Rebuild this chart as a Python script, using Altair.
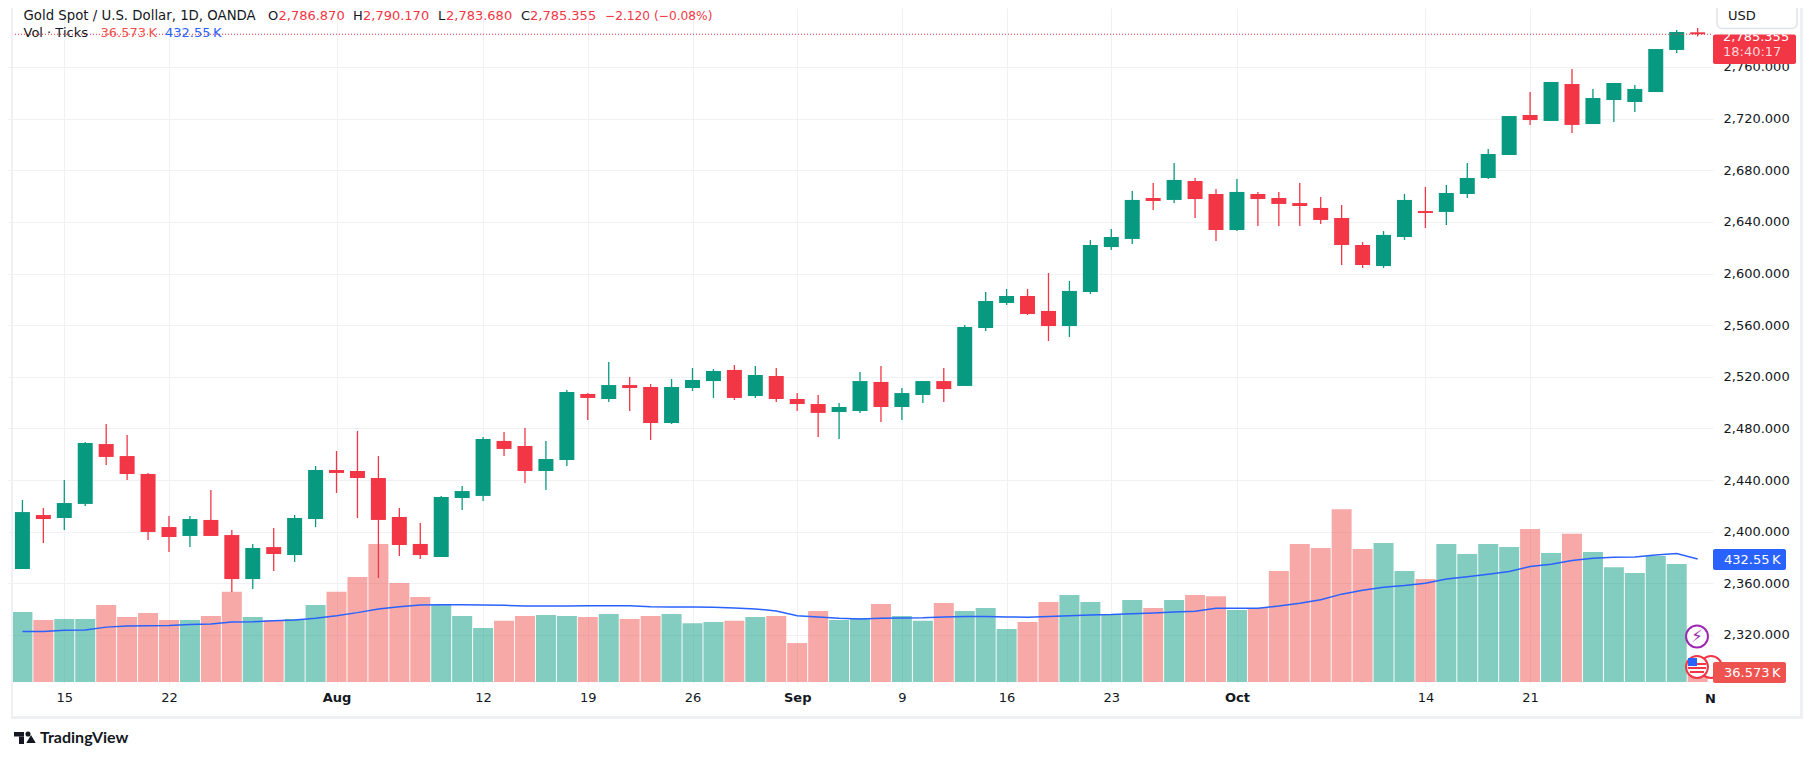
import altair as alt
import pandas as pd

OPEN = [2371.1,2412.9,2410.6,2421.5,2467.9,2458.6,2444.7,2403.6,2396.7,2409.1,2397.4,2363.3,2388.1,2381.9,2409.8,2447.8,2447.0,2441.6,2411.4,2390.5,2380.4,2426.1,2427.7,2470.3,2466.4,2447.0,2455.5,2506.7,2502.8,2513.6,2512.1,2484.2,2511.3,2516.7,2525.3,2505.1,2520.6,2502.8,2498.9,2492.7,2493.5,2516.0,2496.6,2505.9,2516.7,2512.9,2557.8,2577.2,2582.6,2571.0,2559.3,2585.7,2620.5,2626.8,2658.5,2657.0,2671.7,2661.6,2633.7,2661.6,2658.5,2654.6,2650.8,2643.0,2622.1,2605.8,2628.3,2648.4,2647.7,2661.6,2674.0,2691.8,2722.8,2718.2,2746.8,2715.8,2734.4,2732.9,2740.6,2773.2,2786.87]
HIGH = [2424.5,2418.3,2440.0,2469.5,2483.4,2474.9,2445.5,2412.2,2412.2,2432.3,2401.3,2390.5,2402.9,2412.9,2450.9,2462.5,2478.0,2458.6,2418.3,2406.7,2427.7,2435.4,2473.4,2477.2,2480.3,2470.3,2509.8,2507.4,2531.5,2519.8,2514.4,2518.3,2526.8,2526.0,2529.1,2528.4,2526.8,2507.4,2505.9,2499.7,2523.7,2528.4,2511.3,2516.7,2526.8,2560.1,2585.7,2588.0,2588.0,2600.4,2594.2,2626.0,2634.5,2663.9,2670.1,2685.6,2674.0,2665.5,2673.2,2663.2,2663.2,2670.1,2659.3,2653.1,2624.4,2632.9,2661.6,2667.0,2668.6,2685.6,2696.5,2722.0,2740.6,2748.4,2758.4,2743.0,2747.6,2746.0,2773.9,2788.7,2790.17]
LOW = [2371.1,2391.2,2401.3,2419.9,2451.7,2440.0,2393.6,2384.3,2388.1,2396.7,2353.3,2355.6,2369.5,2376.5,2403.6,2430.0,2410.6,2364.1,2381.2,2378.8,2380.4,2416.8,2423.8,2458.6,2437.7,2432.3,2450.9,2486.5,2500.5,2493.5,2471.0,2483.4,2509.0,2503.6,2502.0,2503.6,2500.5,2493.5,2473.4,2471.8,2492.0,2485.0,2486.5,2499.7,2500.5,2512.9,2555.5,2575.6,2567.9,2547.7,2550.8,2584.1,2618.2,2622.9,2649.2,2654.6,2643.0,2625.2,2632.9,2636.8,2636.8,2636.8,2638.4,2606.6,2604.3,2604.3,2626.0,2635.3,2637.6,2658.5,2673.2,2691.8,2715.1,2718.2,2708.9,2715.8,2717.4,2725.1,2740.6,2770.8,2783.68]
CLOSE = [2415.2,2409.8,2422.2,2468.7,2457.9,2444.7,2399.8,2395.9,2409.8,2396.7,2363.3,2387.4,2382.7,2410.6,2447.8,2445.5,2441.6,2409.1,2389.7,2381.9,2426.9,2431.5,2471.8,2464.1,2447.0,2456.3,2508.2,2503.6,2513.6,2511.3,2484.2,2512.1,2517.5,2524.5,2503.6,2521.4,2502.8,2498.9,2492.0,2496.6,2516.7,2496.6,2507.4,2516.7,2510.5,2558.6,2578.7,2582.6,2568.6,2559.3,2586.5,2622.1,2628.3,2657.0,2656.2,2672.5,2657.7,2633.7,2663.2,2657.7,2653.9,2652.3,2641.5,2622.1,2606.6,2629.9,2657.0,2646.9,2662.4,2674.0,2692.6,2722.0,2718.9,2748.4,2715.1,2736.0,2747.6,2743.0,2773.9,2787.1,2785.355]
VOLUME = [246,218,222,222,271,229,243,218,218,232,317,229,218,222,271,317,369,485,348,299,271,232,190,215,232,236,232,229,239,222,232,239,207,211,215,229,232,137,250,218,225,274,232,215,278,250,260,186,211,281,306,281,236,288,260,288,306,302,253,260,390,485,471,608,468,489,390,362,485,450,485,475,538,454,521,457,404,383,443,415,36.573]
VOLUME_MA = [178,178,182,183,193,197,198,199,202,204,211,212,215,218,224,233,244,257,265,271,272,272,271,270,267,267,267,268,268,268,265,264,264,263,260,257,250,233,229,224,222,224,225,226,229,230,230,229,228,230,233,236,237,240,243,246,249,259,259,259,267,277,289,309,323,333,339,347,362,370,379,389,406,414,427,435,439,440,447,452,432.55]
TICK_BARS = [2,7,15,22,27,32,37,42,47,52,58,67,72]
TICK_LABELS = ["15","22","Aug","12","19","26","Sep","9","16","23","Oct","14","21"]
MONTH_LABELS = ["Aug","Sep","Oct"]
PRICE_TICKS = [2320,2360,2400,2440,2480,2520,2560,2600,2640,2680,2720,2760]
LAST_PRICE = [2785.355]

GREEN, RED, VRED, BLUE, INK = "#089981", "#F23645", "#EF5350", "#2962FF", "#131722"
GRID = "#F0F1F4"
BORDER = "#EEF0F6"
AXIS_FONT = "DejaVu Sans"

df = pd.DataFrame({
    "bar": range(len(OPEN)), "open": OPEN, "high": HIGH, "low": LOW, "close": CLOSE,
    "volume": VOLUME, "ma": VOLUME_MA,
})
df["dir"] = ["up" if c >= o else "down" for o, c in zip(OPEN, CLOSE)]

W, H = 1705, 676
xs = alt.Scale(domain=[-0.6886, 80.734], nice=False, zero=False, padding=0)
ys = alt.Scale(domain=[2282.01, 2805.70], nice=False, zero=False)
vs = alt.Scale(domain=[-7.03, 2370.46], nice=False, zero=False)
dirs = alt.Scale(domain=["up", "down"], range=[GREEN, RED])
dirs_vol = alt.Scale(domain=["up", "down"], range=[GREEN, VRED])

label_map = "{" + ",".join(f"'{b}':'{t}'" for b, t in zip(TICK_BARS, TICK_LABELS)) + "}"
month_test = " || ".join(f"datum.value == {b}" for b, t in zip(TICK_BARS, TICK_LABELS) if t in MONTH_LABELS)

x_axis = alt.Axis(
    values=TICK_BARS, labelExpr=label_map + "[datum.value]", title=None, domain=False, ticks=False,
    grid=True, gridColor=GRID, gridWidth=1, labelPadding=7, labelFont=AXIS_FONT, labelFontSize=13,
    labelColor=INK, labelOverlap=False, labelBound=False, labelFlush=False,
    labelFontWeight={"condition": {"test": month_test, "value": "bold"}, "value": "normal"},
)
y_axis = alt.Axis(
    orient="right", values=PRICE_TICKS, format=",.3f", title=None, domain=False, ticks=False, grid=True,
    gridColor=GRID, gridWidth=1, labelPadding=10, labelFont=AXIS_FONT, labelFontSize=13, labelColor=INK,
    labelOverlap=False, labelBound=False, labelFlush=False,
)

base = alt.Chart(df)
X = alt.X("bar:Q", scale=xs, axis=x_axis)

axes_layer = base.mark_rule(opacity=0).encode(
    x=X,
    y=alt.Y("low:Q", scale=ys, axis=y_axis),
)
vol_bars = base.mark_bar(size=20, opacity=0.5).encode(
    x=X, y=alt.Y("volume:Q", scale=vs, axis=None, stack=None),
    color=alt.Color("dir:N", scale=dirs_vol, legend=None),
)
ma_line = base.mark_line(color=BLUE, strokeWidth=1.5).encode(
    x=X, y=alt.Y("ma:Q", scale=vs, axis=None),
)
wicks = base.mark_rule(strokeWidth=1.3).encode(
    x=X, y=alt.Y("low:Q", scale=ys, axis=None), y2="high:Q",
    color=alt.Color("dir:N", scale=dirs, legend=None),
)
bodies = base.mark_bar(size=15).encode(
    x=X, y=alt.Y("open:Q", scale=ys, axis=None), y2="close:Q",
    color=alt.Color("dir:N", scale=dirs, legend=None),
)
last_line = alt.Chart(pd.DataFrame({"p": LAST_PRICE})).mark_rule(
    color=RED, strokeWidth=1, strokeDash=[1, 2]
).encode(y=alt.Y("p:Q", scale=ys, axis=None), x=alt.value(4), x2=alt.value(W))


def px(v):
    return v - 8


def text(s, x, y, color=INK, font=AXIS_FONT, size=13, weight="normal", align="left"):
    return alt.Chart(df.head(1)).mark_text(
        text=s, font=font, fontSize=size, fontWeight=weight, color=color, align=align, baseline="middle"
    ).encode(x=alt.value(px(x)), y=alt.value(px(y)))


def box(x0, x1, y0, y1, fill="white", stroke=None, radius=0, sw=1):
    kw = {"stroke": stroke, "strokeWidth": sw} if stroke else {}
    return alt.Chart(df.head(1)).mark_rect(fill=fill, cornerRadius=radius, opacity=1, **kw).encode(
        x=alt.value(px(x0)), x2=alt.value(px(x1)), y=alt.value(px(y0)), y2=alt.value(px(y1))
    )


def ring(x, y, size, stroke, sw=2):
    return alt.Chart(df.head(1)).mark_circle(size=size, fill="white", stroke=stroke, strokeWidth=sw, opacity=1).encode(
        x=alt.value(px(x)), y=alt.value(px(y))
    )


LINE1, LINE2 = 16.3, 33
overlay = [
    # frame
    box(11, 13, 0, 718, BORDER), box(11, 1803, 716, 719, BORDER), box(1800, 1803, 0, 719, BORDER),
    # header
    text("Gold Spot / U.S. Dollar, 1D, OANDA", 23.5, LINE1, size=13.3),
    text("O", 268, LINE1), text("2,786.870", 278.5, LINE1, RED),
    text("H", 353, LINE1), text("2,790.170", 363, LINE1, RED),
    text("L", 438, LINE1), text("2,783.680", 446, LINE1, RED),
    text("C", 521, LINE1), text("2,785.355", 530, LINE1, RED),
    text("\u22122.120 (\u22120.08%)", 605, LINE1, RED, size=12.2),
    text("Vol \u00b7 Ticks", 23.5, LINE2),
    text("36.573\u2009K", 100.5, LINE2, VRED),
    text("432.55\u2009K", 165, LINE2, BLUE),
    # last price tag
    box(1713, 1796, 34.6, 64, RED, radius=2),
    text("2,785.355", 1723, 37, "white"),
    text("18:40:17", 1723, 52, "#FCD5D9"),
    box(1717, 1797, -6, 28.5, "white", "#E0E3EB", 5, 1.5),
    text("USD", 1728, LINE1),
    # indicator tags
    box(1713, 1786, 549, 570, BLUE, radius=2),
    text("432.55\u2009K", 1724, 559.5, "white"),
    # event icons
    ring(1697, 636.5, 480, "#9C27B0"),
    text("\u26a1", 1697, 636.5, "#9C27B0", size=17, align="center"),
    ring(1711, 667, 480, RED),
    ring(1697, 667, 480, RED),
    box(1688, 1706, 663, 665, RED), box(1688, 1706, 667, 669, RED), box(1690, 1704, 671, 673, RED),
    box(1688, 1697, 658, 666, "#2962FF"),
    box(1713, 1786, 662, 683, VRED, radius=2),
    text("36.573\u2009K", 1724, 672.5, "white"),
    # clipped November label
    text("N", 1705, 699, weight="bold"),
    # TradingView mark
    box(14, 24, 732, 736.5, INK), box(19, 24, 736.5, 744, INK),
    alt.Chart(df.head(1)).mark_circle(size=26, color=INK, opacity=1).encode(x=alt.value(px(28)), y=alt.value(px(734))),
    alt.Chart(df.head(1)).mark_point(shape="triangle-up", filled=True, size=90, color=INK, opacity=1).encode(x=alt.value(px(31)), y=alt.value(px(739))),
    text("TradingView", 40, 738, INK, "Lato", 16, "bold"),
]

chart = alt.layer(axes_layer, vol_bars, ma_line, wicks, bodies, last_line, *overlay).resolve_scale(
    y="independent", color="independent"
).properties(
    width=W, height=H, padding={"left": 0, "top": 0, "right": 94, "bottom": 68},
    autosize=alt.AutoSizeParams(type="none"), background="white",
).configure_view(stroke=None)

chart.save("out.html", embed_options={"renderer": "svg", "actions": False})
